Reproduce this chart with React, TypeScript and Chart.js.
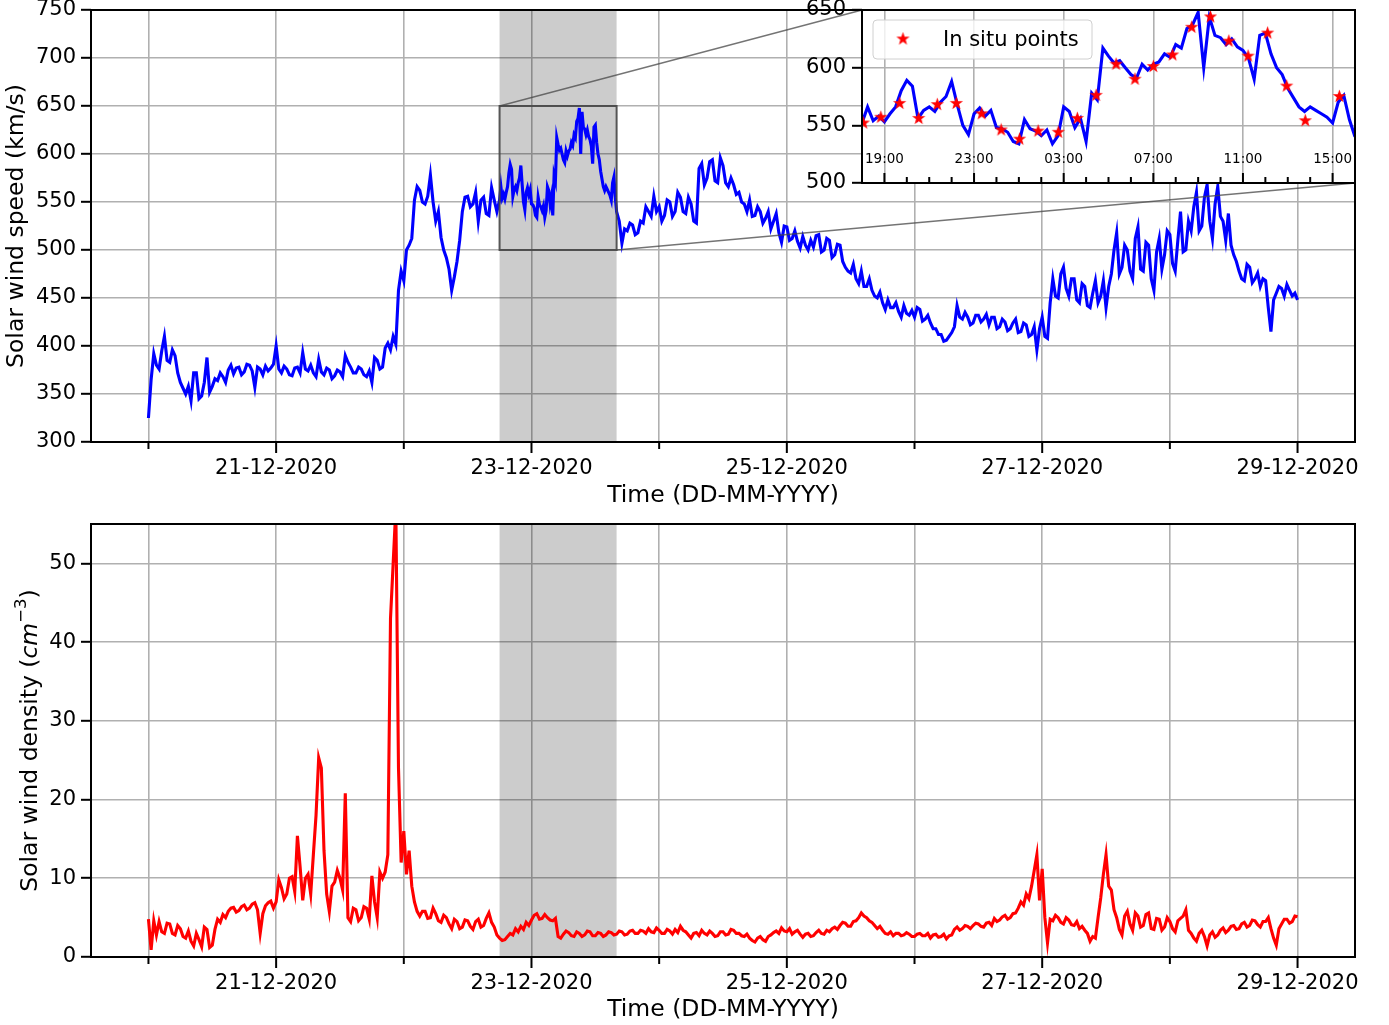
import React, { useEffect, useRef } from 'react';
import { Chart, registerables } from 'chart.js';

Chart.register(...registerables);

const FONT_FAMILY = 'DejaVu Sans';
const GRID_COLOR = '#b0b0b0';
const LINE_WIDTH = 3.1;

// ---------- time axis: hours since 20-12-2020 00:00 ----------
const dayTickHours = [0, 24, 48, 72, 96, 120, 144, 168, 192, 216];
const dayTickLabels = ['', '21-12-2020', '', '23-12-2020', '', '25-12-2020', '', '27-12-2020', '', '29-12-2020'];
const timeAxisMin = -10.8;
const timeAxisMax = 226.8;
const timeTitle = 'Time (DD-MM-YYYY)';
const sampleStepHours = 0.5;

const speedTicks = [300, 350, 400, 450, 500, 550, 600, 650, 700, 750];
const speedTitle = 'Solar wind speed (km/s)';
const densityTicks = [0, 10, 20, 30, 40, 50];
const densityMax = 55;

// zoom window (shaded band + inset)
const zoomStartHour = 66;
const zoomEndHour = 88;
const zoomStepHours = 0.25;
const zoomLowSpeed = 500;
const zoomHighSpeed = 650;

const insetSpeedTicks = [500, 550, 600, 650];
const insetLabelHours = [67, 71, 75, 79, 83, 87];
const insetLabels = ['19:00', '23:00', '03:00', '07:00', '11:00', '15:00'];
const insetMinorHours = [66, 67, 68, 69, 70, 71, 72, 73, 74, 75, 76, 77, 78, 79, 80, 81, 82, 83, 84, 85, 86, 87, 88];
const legendLabel = 'In situ points';

// ---------- speed (km/s) ----------
// every 30 min, hours 0 .. 65.5
const speedBeforeZoom = [
  325, 365, 392, 380, 376, 395, 410, 385, 383, 396, 390, 372, 362, 356, 350, 358, 343, 372, 372, 345, 348, 362, 388, 352,
  358, 366, 364, 372, 368, 362, 375, 380, 371, 377, 378, 370, 373, 381, 380, 374, 357, 378, 376, 370, 379, 374, 377, 381,
  400, 376, 372, 379, 376, 370, 369, 377, 378, 372, 393, 376, 374, 380, 372, 368, 386, 373, 370, 377, 375, 366, 369, 375,
  373, 368, 390, 383, 378, 372, 372, 378, 376, 370, 368, 374, 362, 388, 385, 376, 378, 398, 403, 396, 410, 402, 458, 478,
  468, 500, 505, 512, 552, 566, 562, 550, 548, 556, 578, 550, 530, 540, 513, 500, 492, 480, 458, 472, 488, 510, 540, 555,
  556, 545, 548, 560, 530, 552, 555, 538, 536, 565, 552, 540,
];
// every 15 min, hours 66 .. 88
const speedZoom = [
  552, 566, 554, 558, 553, 560, 566, 580, 589, 584, 556, 563, 566, 562, 570, 575,
  588, 568, 550, 542, 560, 565, 558, 563, 548, 547, 544, 536, 534, 555, 547, 545,
  541, 546, 534, 541, 566, 562, 548, 556, 536, 578, 572, 617, 610, 604, 606, 600,
  594, 591, 603, 598, 603, 605, 612, 609, 620, 617, 634, 637, 648, 600, 644, 628,
  626, 620, 625, 618, 615, 608, 590, 628, 630, 612, 600, 594, 582, 574, 566, 562,
  566, 563, 560, 557, 552, 570, 576, 555, 540,
];
// every 30 min, hours 88.5 .. 216
const speedAfterZoom = [
  530, 507, 522, 520, 528, 526, 516, 518, 530, 528, 545, 540, 535, 556, 540,
  545, 530, 536, 552, 550, 535, 540, 560, 555, 540, 538, 555, 548, 530, 528, 585,
  590, 568, 575, 592, 594, 572, 570, 596, 588, 570, 566, 575, 568, 558, 560, 550,
  548, 540, 552, 535, 536, 545, 540, 528, 533, 540, 522, 530, 538, 518, 508, 525,
  524, 510, 512, 520, 509, 502, 514, 505, 500, 510, 503, 515, 516, 498, 500, 512,
  510, 492, 495, 506, 505, 488, 482, 478, 476, 485, 470, 465, 478, 462, 462, 470,
  458, 452, 450, 456, 445, 438, 448, 440, 440, 445, 436, 430, 442, 434, 432, 437,
  430, 440, 438, 426, 428, 432, 424, 418, 418, 412, 412, 405, 406, 410, 414, 420,
  442, 430, 428, 435, 430, 422, 424, 432, 432, 425, 428, 433, 422, 430, 430, 418,
  420, 428, 425, 416, 418, 424, 428, 414, 415, 424, 422, 410, 412, 420, 396, 418,
  430, 410, 408, 445, 470, 452, 450, 475, 482, 460, 452, 470, 470, 448, 445, 465,
  462, 442, 440, 455, 468, 445, 452, 468, 440, 462, 475, 500, 518, 475, 482, 505,
  500, 478, 470, 512, 524, 480, 478, 508, 505, 470, 458, 498, 512, 480, 495, 520,
  516, 486, 478, 510, 540, 498, 500, 530, 520, 545, 560, 520, 525, 555, 568, 530,
  512, 548, 566, 535, 530, 510, 538, 505, 495, 488, 478, 470, 468, 485, 482, 466,
  470, 476, 462, 470, 468, 440, 415, 448, 455, 462, 460, 452, 464, 458, 452, 455,
  448,
];

// in situ points shown in the inset
const insituHours = [66.06, 66.84, 67.68, 68.53, 69.36, 70.21, 71.34, 72.21, 73.03, 73.86, 74.76, 75.61, 76.45,
  77.34, 78.18, 79.0, 79.86, 80.71, 81.55, 82.37, 83.23, 84.1, 84.95, 85.78, 87.3];
const insituSpeed = [552, 557, 569, 556, 568, 569, 560, 546, 538, 545, 544, 556, 576,
  603, 590, 601, 611, 635, 644, 623, 610, 630, 584, 554, 575];

// ---------- density (cm^-3), every 30 min, hours 0 .. 216 ----------
const densitySamples = [
  4.8, 0.9, 4.6, 2.8, 4.5, 3.2, 3.0, 4.3, 4.2, 3.0, 2.8, 4.0, 3.6, 2.6, 2.4, 3.3, 2.0, 1.4, 3.0, 2.2, 1.3, 3.8, 3.5, 1.2,
  1.5, 3.5, 4.8, 4.4, 5.4, 5.0, 5.8, 6.2, 6.3, 5.7, 5.9, 6.4, 6.6, 6.0, 6.2, 6.7, 6.9, 6.0, 3.0, 5.5, 6.5, 6.9, 7.1, 6.2,
  7.0, 9.8, 8.8, 7.4, 8.0, 10.0, 10.2, 8.3, 15.4, 11.5, 7.2, 10.0, 10.5, 8.0, 13.0, 18.0, 25.3, 24.0, 13.5, 8.0, 5.8, 9.0, 9.5, 11.0,
  10.0, 8.5, 20.8, 5.0, 4.5, 6.2, 6.0, 4.6, 5.0, 6.4, 6.2, 4.8, 10.3, 7.0, 5.0, 10.8, 10.0, 10.8, 13.0, 43.0, 50.0, 57.0, 24.0, 12.0,
  16.0, 10.5, 13.5, 9.0, 7.0, 5.8, 5.2, 5.8, 5.8, 4.9, 5.0, 6.2, 5.5, 4.6, 4.4, 5.3, 5.0, 4.2, 3.6, 4.8, 4.5, 3.6, 3.8, 4.7,
  4.6, 3.9, 3.5, 4.5, 4.8, 3.8, 4.0, 4.9, 5.6, 4.4, 3.8, 2.8, 2.4, 2.1, 2.2, 2.6, 3.0, 2.8, 3.6, 3.2, 3.9, 3.5, 4.4, 4.0,
  4.7, 5.3, 5.5, 4.8, 4.9, 5.4, 5.0, 4.7, 4.6, 4.9, 2.6, 2.4, 2.9, 3.3, 3.1, 2.7, 2.6, 3.2, 3.0, 2.6, 2.8, 3.3, 3.2, 2.7,
  2.7, 3.1, 3.0, 2.6, 2.8, 3.2, 3.1, 2.8, 2.9, 3.3, 3.2, 2.8, 2.9, 3.3, 3.4, 3.0, 3.0, 3.4, 3.3, 3.0, 3.6, 3.2, 3.1, 3.7,
  3.4, 3.0, 3.0, 3.5, 3.3, 2.9, 3.5, 3.1, 3.9, 3.4, 3.2, 2.8, 2.4, 3.0, 3.1, 2.7, 3.4, 3.0, 2.8, 3.3, 3.0, 2.6, 2.7, 3.2,
  3.2, 2.8, 2.9, 3.5, 3.4, 3.0, 3.0, 2.7, 2.6, 2.9, 2.4, 2.1, 1.9, 2.4, 2.6, 2.2, 2.0, 2.6, 2.8, 3.1, 3.3, 3.0, 3.7, 3.3,
  3.2, 3.6, 2.9, 3.2, 3.4, 2.9, 2.5, 2.9, 3.0, 2.6, 2.7, 3.1, 3.4, 3.0, 2.9, 3.4, 3.2, 3.6, 3.8, 3.5, 4.0, 4.4, 4.3, 3.9,
  3.9, 4.5, 4.6, 5.0, 5.6, 5.2, 5.0, 4.6, 4.4, 4.0, 3.6, 3.9, 3.4, 3.0, 2.9, 3.2, 2.7, 3.0, 3.0, 2.7, 2.8, 3.1, 2.9, 2.6,
  2.6, 2.9, 3.0, 2.7, 2.7, 3.0, 2.4, 2.8, 2.9, 2.5, 2.6, 2.9, 2.3, 2.7, 2.8, 3.5, 3.8, 3.4, 3.6, 4.0, 3.9, 3.6, 4.0, 4.3,
  4.2, 3.9, 3.8, 4.3, 4.4, 4.0, 4.9, 4.5, 4.7, 5.1, 5.3, 4.8, 5.0, 5.5, 5.6, 6.2, 7.0, 6.6, 8.0, 7.4, 9.0, 11.0, 13.0, 7.2,
  11.2, 5.0, 1.8, 4.8, 4.6, 5.3, 5.0, 4.4, 4.2, 5.0, 4.7, 4.1, 4.0, 4.5, 3.6, 3.9, 3.4, 3.0, 2.0, 2.6, 2.4, 5.0, 7.5, 10.5,
  13.0, 9.0, 8.5, 6.0, 5.0, 3.5, 2.8, 5.2, 5.8, 4.2, 3.4, 5.6, 5.2, 3.8, 4.0, 5.4, 5.6, 3.6, 3.5, 4.9, 4.8, 3.4, 3.8, 5.0,
  4.5, 3.6, 3.2, 4.6, 4.9, 5.2, 6.0, 3.4, 3.0, 2.4, 2.0, 3.0, 3.4, 2.6, 1.4, 2.8, 3.2, 2.5, 2.8, 3.4, 3.7, 3.1, 3.4, 3.9,
  4.0, 3.5, 3.6, 4.2, 4.4, 3.8, 4.0, 4.7, 4.6, 4.1, 3.8, 4.5, 4.5, 5.0, 3.6, 2.4, 1.5, 3.6, 4.2, 4.8, 4.8, 4.3, 4.5, 5.2,
  5.1,
];

// ---------- build series ----------
const speedZoomSeries = speedZoom.map((v, i) => ({ x: zoomStartHour + i * zoomStepHours, y: v }));
const speedSeries = [
  ...speedBeforeZoom.map((v, i) => ({ x: i * sampleStepHours, y: v })),
  ...speedZoomSeries,
  ...speedAfterZoom.map((v, i) => ({ x: zoomEndHour + sampleStepHours * (i + 1), y: v })),
];
const densitySeries = densitySamples.map((v, i) => ({ x: i * sampleStepHours, y: v }));
const insituSeries = insituHours.map((h, i) => ({ x: h, y: insituSpeed[i] }));

// ---------- helpers ----------
const zeroPad = (s: any) => {
  s.paddingLeft = 0; s.paddingRight = 0; s.paddingTop = 0; s.paddingBottom = 0;
};

function makeStar(size: number, color: string) {
  const c = document.createElement('canvas');
  c.width = size; c.height = size;
  const g = c.getContext('2d')!;
  const cx = size / 2, cy = size / 2, R = size / 2 - 0.5, r = R * 0.4;
  g.beginPath();
  for (let k = 0; k < 10; k++) {
    const a = -Math.PI / 2 + (k * Math.PI) / 5;
    const rad = k % 2 === 0 ? R : r;
    g.lineTo(cx + rad * Math.cos(a), cy + rad * Math.sin(a));
  }
  g.closePath();
  g.fillStyle = color;
  g.fill();
  return c;
}

function drawFrame(chart: any) {
  const { ctx, chartArea: a } = chart;
  ctx.save();
  ctx.strokeStyle = '#000';
  ctx.lineWidth = 2;
  ctx.strokeRect(a.left, a.top, a.right - a.left, a.bottom - a.top);
  ctx.restore();
}

function drawDayTicks(chart: any) {
  const { ctx, chartArea: a, scales } = chart;
  ctx.save();
  ctx.strokeStyle = '#000';
  ctx.lineWidth = 2;
  dayTickHours.forEach((h, i) => {
    const px = scales.x.getPixelForValue(h);
    const len = dayTickLabels[i] ? 11 : 7;
    ctx.beginPath();
    ctx.moveTo(px, a.bottom);
    ctx.lineTo(px, a.bottom + len);
    ctx.stroke();
  });
  ctx.restore();
}

function drawShade(chart: any) {
  const { ctx, chartArea: a, scales } = chart;
  const x0 = scales.x.getPixelForValue(zoomStartHour);
  const x1 = scales.x.getPixelForValue(zoomEndHour);
  ctx.save();
  ctx.fillStyle = 'rgba(0,0,0,0.2)';
  ctx.fillRect(x0, a.top, x1 - x0, a.bottom - a.top);
  ctx.restore();
}

function timeScale(height: number, titlePadBottom: number) {
  return {
    type: 'linear',
    min: timeAxisMin,
    max: timeAxisMax,
    afterBuildTicks: (s: any) => { s.ticks = dayTickHours.map((v) => ({ value: v })); },
    afterFit: (s: any) => { s.height = height; zeroPad(s); },
    grid: { color: GRID_COLOR, lineWidth: 1.6, drawTicks: false },
    border: { display: false },
    ticks: {
      autoSkip: false, maxRotation: 0, minRotation: 0, padding: 14, color: '#000',
      font: { family: FONT_FAMILY, size: 21 },
      callback: (v: number) => { const i = dayTickHours.indexOf(v); return i >= 0 ? dayTickLabels[i] : ''; },
    },
    title: {
      display: true, text: timeTitle, color: '#000',
      font: { family: FONT_FAMILY, size: 23.5 }, padding: { top: 0, bottom: titlePadBottom },
    },
  };
}

function valueScale(min: number, max: number, ticks: number[], width: number, title: string | null) {
  return {
    type: 'linear',
    min, max,
    afterBuildTicks: (s: any) => { s.ticks = ticks.map((v) => ({ value: v })); },
    afterFit: (s: any) => { s.width = width; zeroPad(s); },
    grid: { color: GRID_COLOR, lineWidth: 1.6, drawTicks: true, tickLength: 10, tickColor: '#000', tickWidth: 2 },
    border: { display: false },
    ticks: { padding: 5, color: '#000', font: { family: FONT_FAMILY, size: 21 } },
    title: title
      ? { display: true, text: title, color: '#000', font: { family: FONT_FAMILY, size: 23.5 }, padding: { top: 3, bottom: 0 } }
      : { display: false },
  };
}

export default function App() {
  const topRef = useRef<HTMLCanvasElement>(null);
  const bottomRef = useRef<HTMLCanvasElement>(null);
  const insetRef = useRef<HTMLCanvasElement>(null);

  useEffect(() => {
    const star = makeStar(15, '#ff0000');

    // ---------- inset ----------
    const insetPlugin = {
      id: 'insetDecor',
      beforeDraw(chart: any) {
        const { ctx, chartArea: a } = chart;
        ctx.save();
        ctx.fillStyle = '#fff';
        ctx.fillRect(a.left, a.top, a.right - a.left, a.bottom - a.top);
        ctx.restore();
      },
      afterDatasetsDraw(chart: any) {
        const { ctx, chartArea: a, scales } = chart;
        ctx.save();
        ctx.strokeStyle = '#000';
        ctx.lineWidth = 2;
        insetMinorHours.forEach((h) => {
          const px = scales.x.getPixelForValue(h);
          const len = insetLabelHours.includes(h) ? 10 : 6;
          ctx.beginPath();
          ctx.moveTo(px, a.bottom);
          ctx.lineTo(px, a.bottom - len);
          ctx.stroke();
        });
        ctx.fillStyle = '#000';
        ctx.font = `13.5px "${FONT_FAMILY}"`;
        ctx.textAlign = 'center';
        ctx.textBaseline = 'middle';
        insetLabelHours.forEach((h, i) => {
          ctx.fillText(insetLabels[i], scales.x.getPixelForValue(h), a.bottom - 23.5);
        });
        ctx.restore();
        drawFrame(chart);
        // legend
        ctx.save();
        const lx = a.left + 11, ly = a.top + 10, lw = 219, lh = 39;
        ctx.beginPath();
        if (ctx.roundRect) ctx.roundRect(lx, ly, lw, lh, 4); else ctx.rect(lx, ly, lw, lh);
        ctx.fillStyle = 'rgba(255,255,255,0.8)';
        ctx.fill();
        ctx.strokeStyle = '#d0d0d0';
        ctx.lineWidth = 1;
        ctx.stroke();
        ctx.drawImage(star, a.left + 41 - star.width / 2, a.top + 29 - star.height / 2);
        ctx.fillStyle = '#000';
        ctx.font = `21px "${FONT_FAMILY}"`;
        ctx.textAlign = 'left';
        ctx.textBaseline = 'alphabetic';
        ctx.fillText(legendLabel, a.left + 81, a.top + 36);
        ctx.restore();
      },
    };

    const inset = new Chart(insetRef.current!, {
      type: 'line',
      data: {
        datasets: [
          { data: insituSeries, showLine: false, pointStyle: star as any, pointRadius: 7, clip: 0 } as any,
          { data: speedZoomSeries, borderColor: '#0000ff', borderWidth: LINE_WIDTH, pointRadius: 0, tension: 0, fill: false, clip: 0 } as any,
        ],
      },
      options: {
        responsive: false, animation: false, events: [],
        layout: { padding: { left: 0, top: 10, right: 25, bottom: 0 }, autoPadding: false },
        plugins: { legend: { display: false }, tooltip: { enabled: false } },
        scales: {
          x: {
            type: 'linear', min: zoomStartHour, max: zoomEndHour,
            afterBuildTicks: (s: any) => { s.ticks = insetLabelHours.map((v) => ({ value: v })); },
            afterFit: (s: any) => { s.height = 17; zeroPad(s); },
            grid: { color: GRID_COLOR, lineWidth: 1.6, drawTicks: false },
            border: { display: false },
            ticks: { display: false },
          },
          y: {
            type: 'linear', min: zoomLowSpeed, max: zoomHighSpeed,
            afterBuildTicks: (s: any) => { s.ticks = insetSpeedTicks.map((v) => ({ value: v })); },
            afterFit: (s: any) => { s.width = 82; zeroPad(s); },
            grid: { color: GRID_COLOR, lineWidth: 1.6, drawTicks: true, tickLength: 10, tickColor: '#000', tickWidth: 2 },
            border: { display: false },
            ticks: { padding: 6, color: '#000', font: { family: FONT_FAMILY, size: 21 } },
          },
        } as any,
      },
      plugins: [insetPlugin as any],
    });

    // ---------- top chart ----------
    const topPlugin = {
      id: 'topDecor',
      beforeDatasetsDraw(chart: any) { drawShade(chart); },
      afterDatasetsDraw(chart: any) {
        const { ctx, scales } = chart;
        const x0 = scales.x.getPixelForValue(zoomStartHour);
        const x1 = scales.x.getPixelForValue(zoomEndHour);
        const yT = scales.y.getPixelForValue(zoomHighSpeed);
        const yB = scales.y.getPixelForValue(zoomLowSpeed);
        ctx.save();
        ctx.strokeStyle = 'rgba(70,70,70,0.9)';
        ctx.lineWidth = 2;
        ctx.strokeRect(x0, yT, x1 - x0, yB - yT);
        const ia = inset.chartArea;
        const r1 = insetRef.current!.getBoundingClientRect();
        const r0 = topRef.current!.getBoundingClientRect();
        const dx = r1.left - r0.left, dy = r1.top - r0.top;
        ctx.strokeStyle = 'rgba(70,70,70,0.75)';
        ctx.lineWidth = 1.3;
        ctx.beginPath();
        ctx.moveTo(x0, yT);
        ctx.lineTo(dx + ia.left, dy + ia.top);
        ctx.moveTo(x1, yB);
        ctx.lineTo(dx + ia.right, dy + ia.bottom);
        ctx.stroke();
        ctx.restore();
        drawFrame(chart);
        drawDayTicks(chart);
      },
    };

    const top = new Chart(topRef.current!, {
      type: 'line',
      data: {
        datasets: [
          { data: speedSeries, borderColor: '#0000ff', borderWidth: LINE_WIDTH, pointRadius: 0, tension: 0, fill: false, clip: 0 } as any,
        ],
      },
      options: {
        responsive: false, animation: false, events: [],
        layout: { padding: { left: 0, top: 10, right: 34, bottom: 0 }, autoPadding: false },
        plugins: { legend: { display: false }, tooltip: { enabled: false } },
        scales: {
          x: timeScale(73, 5),
          y: valueScale(speedTicks[0], speedTicks[speedTicks.length - 1], speedTicks, 91, speedTitle),
        } as any,
      },
      plugins: [topPlugin as any],
    });

    // ---------- bottom chart ----------
    const bottomPlugin = {
      id: 'bottomDecor',
      beforeDatasetsDraw(chart: any) { drawShade(chart); },
      afterDatasetsDraw(chart: any) {
        drawFrame(chart);
        drawDayTicks(chart);
      },
      afterDraw(chart: any) {
        const { ctx, chartArea: a } = chart;
        const parts = [
          { text: 'Solar wind density (', font: `23.5px "${FONT_FAMILY}"`, dy: 0 },
          { text: 'cm', font: `italic 23.5px "${FONT_FAMILY}"`, dy: 0 },
          { text: '\u22123', font: `16.5px "${FONT_FAMILY}"`, dy: -9 },
          { text: ')', font: `23.5px "${FONT_FAMILY}"`, dy: 0 },
        ];
        ctx.save();
        ctx.translate(31, (a.top + a.bottom) / 2);
        ctx.rotate(-Math.PI / 2);
        const widths = parts.map((p) => { ctx.font = p.font; return ctx.measureText(p.text).width; });
        const total = widths.reduce((s, w) => s + w, 0);
        let xx = -total / 2;
        ctx.fillStyle = '#000';
        ctx.textAlign = 'left';
        ctx.textBaseline = 'middle';
        parts.forEach((p, i) => {
          ctx.font = p.font;
          ctx.fillText(p.text, xx, p.dy);
          xx += widths[i];
        });
        ctx.restore();
      },
    };

    const bottom = new Chart(bottomRef.current!, {
      type: 'line',
      data: {
        datasets: [
          { data: densitySeries, borderColor: '#ff0000', borderWidth: LINE_WIDTH, pointRadius: 0, tension: 0, fill: false, clip: 0 } as any,
        ],
      },
      options: {
        responsive: false, animation: false, events: [],
        layout: { padding: { left: 0, top: 9, right: 34, bottom: 0 }, autoPadding: false },
        plugins: { legend: { display: false }, tooltip: { enabled: false } },
        scales: {
          x: timeScale(68, 1),
          y: valueScale(densityTicks[0], densityMax, densityTicks, 91, null),
        } as any,
      },
      plugins: [bottomPlugin as any],
    });

    return () => {
      top.destroy();
      bottom.destroy();
      inset.destroy();
    };
  }, []);

  return (
    <div style={{ position: 'absolute', left: 0, top: 0, width: 1389, height: 1025, background: '#fff' }}>
      <canvas ref={topRef} width={1389} height={515} style={{ position: 'absolute', left: 0, top: 0, width: 1389, height: 515 }} />
      <canvas ref={bottomRef} width={1389} height={510} style={{ position: 'absolute', left: 0, top: 515, width: 1389, height: 510 }} />
      <canvas ref={insetRef} width={600} height={200} style={{ position: 'absolute', left: 780, top: 0, width: 600, height: 200 }} />
    </div>
  );
}
